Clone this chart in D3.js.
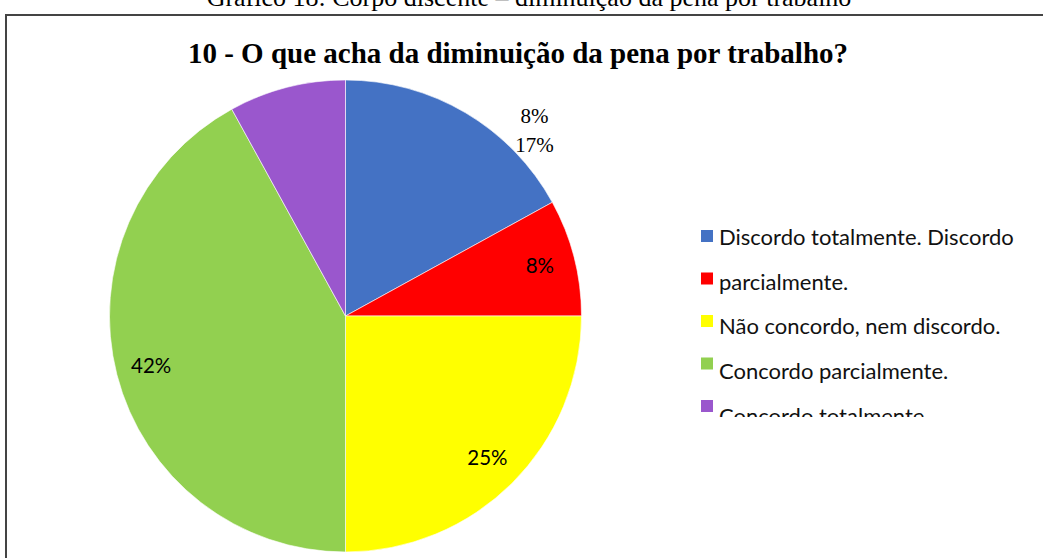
<!DOCTYPE html>
<html>
<head>
<meta charset="utf-8">
<script src="https://cdn.jsdelivr.net/npm/d3@7"></script>
<style>
  html, body { margin: 0; padding: 0; background: #fff; overflow: hidden; }
  svg { display: block; }
</style>
</head>
<body>
<div id="chart"></div>
<script>
// dados do gráfico
var categorias = [
    "Discordo totalmente. Discordo",
    "parcialmente.",
    "Não concordo, nem discordo.",
    "Concordo parcialmente.",
    "Concordo totalmente."
];
var valores = [17, 8, 25, 42, 8];
var rotulos = ["17%", "8%", "25%", "42%", "8%"];
var cores = ["#4472C4", "#FF0000", "#FFFF00", "#92D050", "#9A57CD"];

var W = 1043, H = 558;
var cx = 345.5, cy = 316, R = 236;

var svg = d3.select("#chart").append("svg")
    .attr("width", W)
    .attr("height", H);

// legenda do documento (cortada no topo)
svg.append("text")
    .attr("x", 529)
    .attr("y", 6)
    .attr("text-anchor", "middle")
    .style("font-family", "'Liberation Serif', 'Times New Roman', serif")
    .style("font-size", "26px")
    .text("Gráfico 18: Corpo discente – diminuição da pena por trabalho");

// moldura
svg.append("path")
    .attr("d", "M6," + H + "V15H" + (W + 2))
    .attr("fill", "none")
    .attr("stroke", "#444")
    .attr("stroke-width", 2);

// título
svg.append("text")
    .attr("x", 518)
    .attr("y", 63)
    .attr("text-anchor", "middle")
    .style("font-family", "'Liberation Serif', 'Times New Roman', serif")
    .style("font-weight", "bold")
    .style("font-size", "29px")
    .text("10 - O que acha da diminuição da pena por trabalho?");

var pie = d3.pie().sort(null).value(function (d) { return d; });
var arcs = pie(valores);
var arc = d3.arc().innerRadius(0).outerRadius(R);
var arcLabel = d3.arc().innerRadius(R * 0.85).outerRadius(R * 0.85);

var g = svg.append("g").attr("transform", "translate(" + cx + "," + cy + ")");

g.selectAll("path.fatia")
    .data(arcs)
    .enter().append("path")
    .attr("class", "fatia")
    .attr("d", arc)
    .attr("fill", function (d, i) { return cores[i]; })
    .attr("stroke", "#fff")
    .attr("stroke-width", 0.6);

// rótulos dentro das fatias (vermelho, amarelo, verde)
g.selectAll("text.dentro")
    .data(arcs.filter(function (d) { return d.index >= 1 && d.index <= 3; }))
    .enter().append("text")
    .attr("class", "dentro")
    .attr("transform", function (d) {
        var c = arcLabel.centroid(d);
        return "translate(" + c[0] + "," + c[1] + ")";
    })
    .attr("dy", "0.35em")
    .attr("text-anchor", "middle")
    .style("font-family", "Lato, 'Open Sans', sans-serif")
    .style("font-size", "20.5px")
    .text(function (d) { return rotulos[d.index]; });

// rótulos deslocados para fora (roxo e azul), em serif
var fora = [rotulos[4], rotulos[0]];
g.selectAll("text.fora")
    .data(fora)
    .enter().append("text")
    .attr("class", "fora")
    .attr("x", 189)
    .attr("y", function (d, i) { return -193 + i * 29; })
    .attr("text-anchor", "middle")
    .style("font-family", "'Liberation Serif', 'Times New Roman', serif")
    .style("font-size", "21px")
    .text(function (d) { return d; });

// legenda (cortada embaixo)
svg.append("clipPath").attr("id", "clipLeg")
    .append("rect").attr("x", 690).attr("y", 200).attr("width", 353).attr("height", 217);

var leg = svg.append("g").attr("clip-path", "url(#clipLeg)");
var itens = leg.selectAll("g.item")
    .data(categorias)
    .enter().append("g")
    .attr("class", "item");

itens.append("rect")
    .attr("x", 701)
    .attr("y", function (d, i) { return 230 + i * 42.5; })
    .attr("width", 12)
    .attr("height", 12)
    .attr("fill", function (d, i) { return cores[i]; });

itens.append("text")
    .attr("x", 719)
    .attr("y", function (d, i) { return 245 + i * 44.7; })
    .style("font-family", "Lato, 'Open Sans', sans-serif")
    .style("font-size", "22px")
    .style("fill", "#111")
    .text(function (d) { return d; });
</script>
</body>
</html>
